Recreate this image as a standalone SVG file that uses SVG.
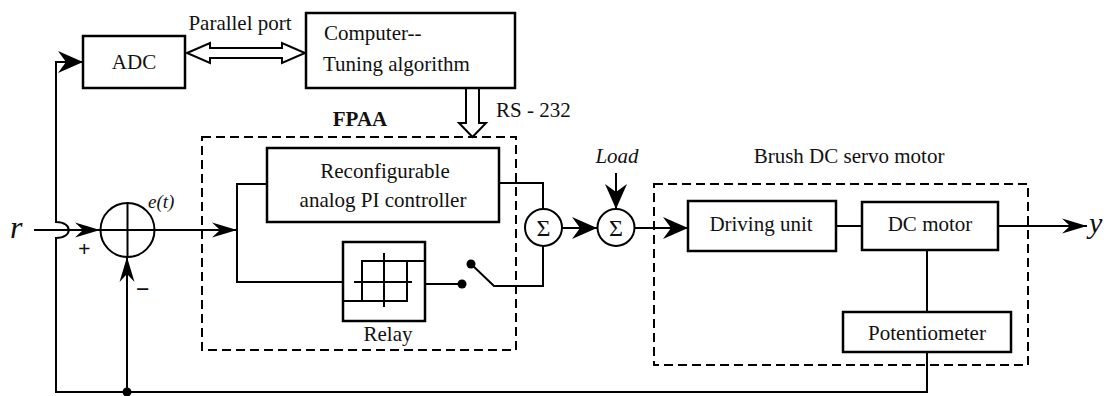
<svg xmlns="http://www.w3.org/2000/svg" width="1106" height="396" viewBox="0 0 1106 396">
<style>
.box{fill:#fff;stroke:#000;stroke-width:2.5}
.dash{fill:none;stroke:#000;stroke-width:2;stroke-dasharray:9 5}
.ln{fill:none;stroke:#000;stroke-width:2}
.hollow{fill:#fff;stroke:#000;stroke-width:2;stroke-linejoin:miter}
.t{font-family:Liberation Serif, Times New Roman, Tinos, Noto Serif, DejaVu Serif, serif;fill:#111}
.lbl{font-size:21px;text-anchor:middle}
.it{font-style:italic}
</style>
<defs>
<marker id="big" markerUnits="userSpaceOnUse" viewBox="-26 -13 28 26" markerWidth="28" markerHeight="26" refX="0" refY="0" orient="auto">
<path d="M0,0 L-25,-11 L-17,0 L-25,11 Z" fill="#000"/>
</marker>
<marker id="sm" markerUnits="userSpaceOnUse" viewBox="-26 -10 28 20" markerWidth="28" markerHeight="20" refX="0" refY="0" orient="auto">
<path d="M0,0 L-25,-7.5 L-17,0 L-25,7.5 Z" fill="#000"/>
</marker>
</defs>

<g id="fpaa-frame">
<rect class="dash" x="202" y="137" width="314" height="213"/>
<text class="t" x="360" y="126" font-size="21" font-weight="bold" text-anchor="middle">FPAA</text>
</g>
<g id="motor-frame">
<rect class="dash" x="654" y="184" width="374" height="181"/>
<text class="t lbl" x="849" y="163">Brush DC servo motor</text>
</g>

<g id="connectors">
<path class="ln" d="M34,230 H100" marker-end="url(#sm)"/>
<path class="ln" d="M927,352 V392 H56 V238 C73,238 73,222 56,222 V62 H83" marker-end="url(#big)"/>
<path class="ln" d="M127,392 V257" marker-end="url(#sm)"/>
<circle cx="127" cy="392" r="4.5" fill="#000"/>
<path class="ln" d="M155,230 H237" marker-end="url(#sm)"/>
<path class="ln" d="M267,184 H237 V282 H343"/>
<path class="ln" d="M425,284 H462"/>
<circle cx="462" cy="284" r="4.5" fill="#000"/>
<circle cx="471" cy="264" r="4.5" fill="#000"/>
<path class="ln" d="M471,264 L494,286 H543 V246"/>
<path class="ln" d="M499,183 H543 V209"/>
<path class="ln" d="M562,228 H597" marker-end="url(#big)"/>
<path class="ln" d="M616,173 V209" marker-end="url(#big)"/>
<path class="ln" d="M635,228 H688" marker-end="url(#big)"/>
<path class="ln" d="M836,226 H862"/>
<path class="ln" d="M927,250 V312"/>
<path class="ln" d="M998,226 H1087" marker-end="url(#sm)"/>
<polygon class="hollow" points="187,53 210,43 210,48 282,48 282,43 305,53 282,63 282,58 210,58 210,63"/>
<polygon class="hollow" points="466,88 479,88 479,123 486,123 472.5,137 459,123 466,123"/>
</g>

<g id="input-r"><text class="t it" x="10" y="238" font-size="32">r</text></g>
<g id="output-y"><text class="t it" x="1089" y="233" font-size="30">y</text></g>

<g id="adc">
<rect class="box" x="83" y="36" width="102" height="52"/>
<text class="t lbl" x="134" y="69">ADC</text>
</g>
<g id="parallel-port-label"><text class="t lbl" x="240" y="30">Parallel port</text></g>
<g id="computer">
<rect class="box" x="306" y="13" width="209" height="75"/>
<text class="t" x="324" y="40" font-size="21">Computer--</text>
<text class="t" x="323" y="71" font-size="21">Tuning algorithm</text>
</g>
<g id="rs232-label"><text class="t" x="496" y="117" font-size="21">RS - 232</text></g>

<g id="sum-error">
<circle class="ln" cx="127.5" cy="230" r="27"/>
<path class="ln" d="M100.5,230 H154.5 M127.5,203 V257"/>
<text class="t" x="78" y="256" font-size="22" font-weight="bold">+</text>
<text class="t" x="136" y="297" font-size="24" font-weight="bold">−</text>
<text class="t it" x="148" y="208" font-size="19">e(t)</text>
</g>

<g id="pi-controller">
<rect class="box" x="267" y="148" width="232" height="74"/>
<text class="t lbl" x="385" y="178">Reconfigurable</text>
<text class="t lbl" x="383" y="207">analog PI controller</text>
</g>

<g id="relay">
<rect class="box" x="343" y="242" width="82" height="79"/>
<path class="ln" d="M343,301 H362 V261 H425 M362,301 H407 V261 M384,253 V307 M354,282 H412" stroke-width="2.5"/>
<text class="t lbl" x="388" y="341">Relay</text>
</g>

<g id="sum1">
<circle class="ln" cx="543.5" cy="227.5" r="18.5"/>
<text class="t" x="543.5" y="236" font-size="24" text-anchor="middle">Σ</text>
</g>
<g id="sum2">
<circle class="ln" cx="616" cy="227.5" r="18.5"/>
<text class="t" x="616" y="236" font-size="24" text-anchor="middle">Σ</text>
<text class="t it" x="617" y="163" font-size="21" text-anchor="middle">Load</text>
</g>

<g id="driving-unit">
<rect class="box" x="688" y="201" width="148" height="50"/>
<text class="t lbl" x="761" y="231">Driving unit</text>
</g>
<g id="dc-motor">
<rect class="box" x="862" y="202" width="136" height="48"/>
<text class="t lbl" x="930" y="231">DC motor</text>
</g>
<g id="potentiometer">
<rect class="box" x="843" y="312" width="168" height="40"/>
<text class="t lbl" x="927" y="340">Potentiometer</text>
</g>
</svg>
